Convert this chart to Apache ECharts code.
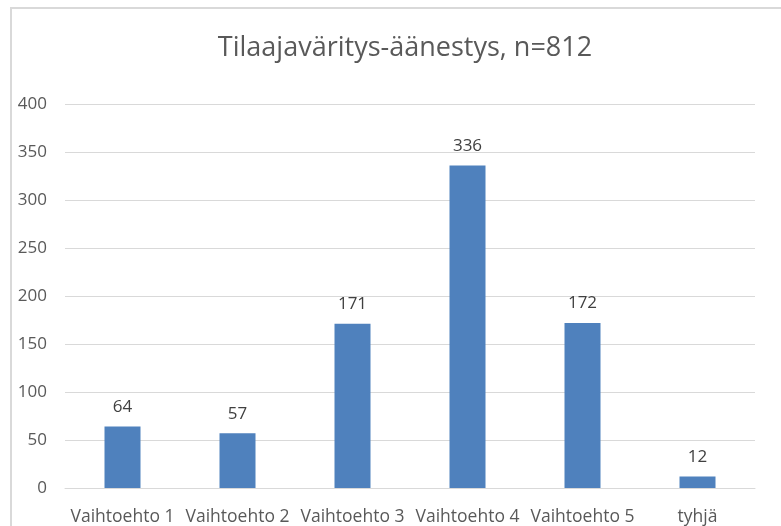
<!DOCTYPE html>
<html>
<head>
<meta charset="utf-8">
<script src="https://cdn.jsdelivr.net/npm/echarts@6/dist/echarts.min.js"></script>
<style>
  html, body { margin: 0; padding: 0; background: #fff; overflow: hidden; }
  #frame { position: absolute; left: 10px; top: 7px; width: 820px; height: 600px; border: 2px solid #d9d9d9; box-sizing: border-box; }
  #chart { position: absolute; left: 0; top: 0; width: 781px; height: 526px; }
</style>
</head>
<body>
<div id="frame"></div>
<div id="chart"></div>
<script>
const categories = ["Vaihtoehto 1", "Vaihtoehto 2", "Vaihtoehto 3", "Vaihtoehto 4", "Vaihtoehto 5", "tyhjä"];
const votes = [64, 57, 171, 336, 172, 12];
const titleText = "Tilaajaväritys-äänestys, n=812";

const chart = echarts.init(document.getElementById("chart"));

chart.setOption({
  backgroundColor: "transparent",
  animation: false,
  title: {
    text: titleText,
    left: 400,
    top: 30,
    textAlign: "center",
    textStyle: {
      color: "#595959",
      fontFamily: "Open Sans",
      fontSize: 27,
      fontWeight: 400,
    },
  },
  grid: {
    left: 65,
    right: 26,
    top: 104,
    bottom: 37,
  },
  xAxis: {
    type: "category",
    data: categories,
    axisTick: { show: false },
    axisLine: { lineStyle: { color: "#d9d9d9", width: 1 } },
    axisLabel: {
      color: "#595959",
      fontFamily: "Open Sans",
      fontSize: 17.5,
      margin: 20,
      interval: 0,
    },
  },
  yAxis: {
    type: "value",
    min: 0,
    max: 400,
    interval: 50,
    axisLine: { show: false },
    axisTick: { show: false },
    axisLabel: {
      color: "#595959",
      fontFamily: "Open Sans",
      fontSize: 17,
      margin: 18,
    },
    splitLine: { lineStyle: { color: "#d9d9d9", width: 1 } },
  },
  series: [
    {
      type: "bar",
      data: votes,
      barWidth: 36,
      itemStyle: { color: "#4f81bd" },
      label: {
        show: true,
        position: "top",
        distance: 11,
        color: "#404040",
        fontFamily: "Open Sans",
        fontSize: 17,
      },
    },
  ],
});
</script>
</body>
</html>
